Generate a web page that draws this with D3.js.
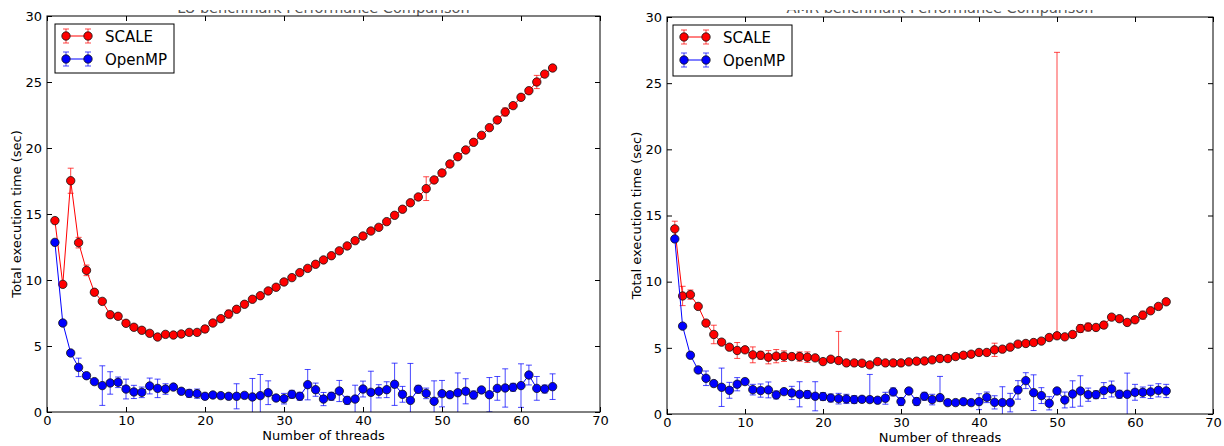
<!DOCTYPE html>
<html><head><meta charset="utf-8">
<script src="https://cdn.jsdelivr.net/npm/d3@7"></script>
<style>
body{margin:0;background:#fff}
svg{display:block}
text{font-family:"DejaVu Sans",sans-serif;fill:#000}
</style>
</head><body>
<svg id="chart" width="1224" height="446"></svg>
<script>
const threads = [1,2,3,4,5,6,7,8,9,10,11,12,13,14,15,16,17,18,19,20,21,22,23,24,25,26,27,28,29,30,31,32,
  33,34,35,36,37,38,39,40,41,42,43,44,45,46,47,48,49,50,51,52,53,54,55,56,57,58,59,60,61,62,63,64];
const xTicks = [0,10,20,30,40,50,60,70];
const yTicks = [0,5,10,15,20,25,30];
const seriesNames = ["SCALE","OpenMP"];
const titles = ["LU benchmark Performance Comparison","AMR benchmark Performance Comparison"];
const xLabel = "Number of threads";
const yLabel = "Total execution time (sec)";

// Left panel
const leftScale = [14.5,9.67,17.52,12.83,10.73,9.07,8.38,7.37,7.25,6.72,
  6.42,6.19,5.96,5.68,5.88,5.83,5.91,6.03,6.03,6.29,
  6.74,7.07,7.42,7.78,8.16,8.54,8.81,9.17,9.45,9.85,
  10.18,10.56,10.88,11.19,11.52,11.84,12.21,12.58,12.98,13.33,
  13.71,13.99,14.42,14.9,15.36,15.85,16.29,16.92,17.58,18.11,
  18.79,19.34,19.85,20.43,20.96,21.54,22.12,22.73,23.21,23.84,
  24.34,25.0,25.6,26.06];
const leftScaleErr = [0.2,0.15,0.95,0.4,0.4,0.15,0.15,0.15,0.15,0.15,
  0.15,0.15,0.15,0.15,0.15,0.1,0.1,0.1,0.15,0.25,
  0.15,0.15,0.3,0.15,0.1,0.1,0.1,0.1,0.1,0.1,
  0.1,0.1,0.1,0.1,0.1,0.1,0.1,0.1,0.1,0.1,
  0.1,0.1,0.1,0.1,0.1,0.1,0.1,0.9,0.1,0.1,
  0.1,0.1,0.1,0.1,0.1,0.1,0.1,0.3,0.1,0.1,
  0.1,0.5,0.1,0.2];
const leftOmp = [12.85,6.74,4.47,3.38,2.75,2.3,2.0,2.2,2.25,1.74,
  1.52,1.49,1.97,1.79,1.74,1.89,1.57,1.41,1.39,1.19,
  1.29,1.24,1.19,1.19,1.26,1.14,1.24,1.46,1.06,1.01,
  1.34,1.19,2.07,1.69,0.98,1.19,1.59,0.88,0.98,1.74,
  1.49,1.57,1.69,2.1,1.34,0.88,1.72,1.41,0.81,1.39,
  1.31,1.46,1.57,1.29,1.67,1.31,1.79,1.82,1.87,2.0,
  2.8,1.79,1.74,1.92];
const leftOmpErr = [0.1,0.1,0.1,0.7,0.2,0.1,1.5,0.85,0.4,0.75,
  0.5,0.4,0.6,0.7,0.4,0.1,0.1,0.3,0.35,0.1,
  0.1,0.1,0.1,0.95,0.1,1.4,1.6,0.9,0.2,0.4,
  0.3,0.3,1.15,0.5,0.5,0.3,0.8,0.3,1.05,0.6,
  1.6,0.5,0.6,1.6,0.6,2.8,0.3,0.4,1.55,1.0,
  0.2,1.5,0.95,0.3,0.2,1.3,0.9,1.45,0.3,1.65,
  0.75,0.9,0.3,0.97];

// Right panel
const rightScale = [13.99,8.92,9.02,8.13,6.87,6.01,5.43,5.05,4.8,4.85,
  4.47,4.44,4.29,4.37,4.37,4.34,4.34,4.29,4.24,3.96,
  4.14,4.04,3.86,3.86,3.84,3.71,3.96,3.86,3.86,3.86,
  3.94,3.99,4.01,4.09,4.19,4.19,4.34,4.44,4.52,4.65,
  4.65,4.85,4.9,5.05,5.28,5.33,5.4,5.51,5.78,5.91,
  5.83,6.01,6.46,6.57,6.54,6.72,7.32,7.2,6.92,7.12,
  7.47,7.8,8.13,8.48];
const rightScaleErrLo = [0.58,0.73,0.35,0.1,0.1,0.7,0.1,0.1,0.6,0.1,
  0.6,0.3,0.5,0.5,0.4,0.2,0.35,0.4,0.1,0.1,
  0.1,0.1,0.1,0.1,0.1,0.1,0.1,0.1,0.1,0.1,
  0.1,0.1,0.1,0.1,0.1,0.1,0.1,0.1,0.1,0.1,
  0.1,0.5,0.1,0.1,0.1,0.1,0.1,0.1,0.1,0.1,
  0.1,0.1,0.3,0.3,0.1,0.25,0.1,0.2,0.1,0.1,
  0.3,0.1,0.1,0.2];
const rightScaleErrHi = [0.58,0.73,0.35,0.1,0.1,0.7,0.1,0.1,0.6,0.1,
  0.6,0.3,0.5,0.5,0.4,0.2,0.35,0.4,0.1,0.1,
  0.1,2.2,0.1,0.1,0.1,0.1,0.1,0.1,0.1,0.1,
  0.1,0.1,0.1,0.1,0.1,0.1,0.1,0.1,0.1,0.1,
  0.1,0.5,0.1,0.1,0.1,0.1,0.1,0.1,0.1,21.42,
  0.1,0.1,0.3,0.3,0.1,0.25,0.1,0.2,0.1,0.1,
  0.3,0.1,0.1,0.2];
const rightOmp = [13.23,6.64,4.44,3.33,2.7,2.3,2.02,1.79,2.25,2.45,
  1.84,1.77,1.82,1.44,1.69,1.59,1.49,1.47,1.34,1.32,
  1.21,1.16,1.14,1.09,1.11,1.09,1.04,1.19,1.67,0.94,
  1.74,0.94,1.34,1.09,1.24,0.86,0.86,0.93,0.86,0.93,
  1.26,0.88,0.86,0.86,1.82,2.52,1.61,1.39,0.81,1.74,
  1.06,1.51,1.74,1.46,1.46,1.77,1.89,1.49,1.49,1.64,
  1.64,1.67,1.79,1.74];
const rightOmpErrLo = [0.1,0.1,0.1,0.1,0.55,0.1,1.45,0.6,0.5,0.1,
  0.4,0.5,0.6,0.3,0.1,0.5,0.95,0.3,1.1,0.3,
  0.3,0.4,0.35,0.3,0.1,0.1,0.1,0.45,0.3,0.3,
  0.2,0.3,0.3,0.4,0.3,0.1,0.1,0.1,0.1,0.6,
  0.4,0.5,1.2,0.7,0.7,0.6,1.35,0.6,0.5,0.1,
  0.6,1.0,1.15,0.5,0.3,0.6,0.6,0.3,1.6,0.6,
  0.4,0.5,0.5,0.5];
const rightOmpErrHi = [0.1,0.1,0.1,0.1,0.55,0.1,1.45,0.6,0.5,0.1,
  0.4,0.5,0.6,0.3,0.1,0.5,0.95,0.3,1.1,0.3,
  0.3,0.4,0.35,0.3,0.1,1.9,0.1,0.45,0.3,0.3,
  0.2,0.3,0.3,0.4,1.6,0.1,0.1,0.1,0.1,0.6,
  0.4,0.5,1.2,0.7,0.7,0.6,1.35,0.6,0.5,0.1,
  0.6,1.0,1.15,0.5,0.3,0.6,0.6,0.3,1.6,0.6,
  0.4,0.5,0.5,0.5];

const colors = ["#ff0000","#0000ff"];

const svg = d3.select("#chart");

const panels = [
  {left:47, right:600, top:16, bottom:412, title:titles[0], ylabX:17,
   legend:{x:55,y:24,w:119,h:49},
   series:[
     {vals:leftScale, lo:leftScaleErr, hi:leftScaleErr},
     {vals:leftOmp, lo:leftOmpErr, hi:leftOmpErr}]},
  {left:667, right:1213, top:17, bottom:414, title:titles[1], ylabX:637,
   legend:{x:673,y:25,w:119,h:51},
   series:[
     {vals:rightScale, lo:rightScaleErrLo, hi:rightScaleErrHi},
     {vals:rightOmp, lo:rightOmpErrLo, hi:rightOmpErrHi}]}
];

panels.forEach((p, pi) => {
  const x = d3.scaleLinear().domain([0,70]).range([p.left,p.right]);
  const y = d3.scaleLinear().domain([0,30]).range([p.bottom,p.top]);
  const g = svg.append("g");

  // Title (top of figure is cut off in the source image; only its lowest sliver shows)
  const clipT = "clipT"+pi;
  svg.append("clipPath").attr("id",clipT).append("rect")
    .attr("x",p.left).attr("y",10).attr("width",p.right-p.left).attr("height",6);
  g.append("text").attr("clip-path",`url(#${clipT})`)
    .attr("x",(p.left+p.right)/2).attr("y",12.5)
    .attr("text-anchor","middle").attr("font-size",14.5).style("fill","#555")
    .text(p.title);

  // clip for data
  const clipId = "clip"+pi;
  svg.append("clipPath").attr("id",clipId).append("rect")
    .attr("x",p.left).attr("y",p.top).attr("width",p.right-p.left).attr("height",p.bottom-p.top);

  const data = g.append("g").attr("clip-path",`url(#${clipId})`);
  p.series.forEach((s, si) => {
    const col = colors[si];
    const sg = data.append("g");
    const pts = threads.map((t,i)=>({t, v:s.vals[i], lo:s.vals[i]-s.lo[i], hi:s.vals[i]+s.hi[i]}));
    // error bars
    const eb = sg.append("g").attr("stroke",col).attr("stroke-opacity",0.72).attr("stroke-width",1);
    eb.selectAll("line.v").data(pts).join("line")
      .attr("x1",d=>x(d.t)).attr("x2",d=>x(d.t)).attr("y1",d=>y(d.lo)).attr("y2",d=>y(d.hi));
    eb.selectAll("line.ct").data(pts).join("line")
      .attr("x1",d=>x(d.t)-3).attr("x2",d=>x(d.t)+3).attr("y1",d=>y(d.hi)).attr("y2",d=>y(d.hi));
    eb.selectAll("line.cb").data(pts).join("line")
      .attr("x1",d=>x(d.t)-3).attr("x2",d=>x(d.t)+3).attr("y1",d=>y(d.lo)).attr("y2",d=>y(d.lo));
    // line
    sg.append("path").datum(pts)
      .attr("fill","none").attr("stroke",col).attr("stroke-width",1)
      .attr("d", d3.line().x(d=>x(d.t)).y(d=>y(d.v)));
    // markers
    sg.selectAll("circle").data(pts).join("circle")
      .attr("cx",d=>x(d.t)).attr("cy",d=>y(d.v)).attr("r",4.2)
      .attr("fill",col).attr("stroke","#111").attr("stroke-width",0.8);
  });

  // axes (ticks inward, on all four sides)
  const fmt = d3.format("d");
  const ax = g.append("g").attr("class","axes");
  const styleAxis = sel => {
    sel.select(".domain").remove();
    sel.selectAll(".tick line").attr("stroke","#000").attr("stroke-width",1);
    sel.selectAll(".tick text").attr("font-size",13).style("font-family","DejaVu Sans").attr("fill","#000");
  };
  ax.append("g").attr("transform",`translate(0,${p.bottom})`)
    .call(d3.axisBottom(x).tickValues(xTicks).tickFormat(fmt).tickSizeInner(-5).tickSizeOuter(0).tickPadding(4))
    .call(styleAxis);
  ax.append("g").attr("transform",`translate(0,${p.top})`)
    .call(d3.axisTop(x).tickValues(xTicks).tickFormat("").tickSizeInner(-5).tickSizeOuter(0))
    .call(styleAxis);
  ax.append("g").attr("transform",`translate(${p.left},0)`)
    .call(d3.axisLeft(y).tickValues(yTicks).tickFormat(fmt).tickSizeInner(-5).tickSizeOuter(0).tickPadding(5))
    .call(styleAxis);
  ax.append("g").attr("transform",`translate(${p.right},0)`)
    .call(d3.axisRight(y).tickValues(yTicks).tickFormat("").tickSizeInner(-5).tickSizeOuter(0))
    .call(styleAxis);

  // frame
  g.append("rect").attr("x",p.left).attr("y",p.top)
    .attr("width",p.right-p.left).attr("height",p.bottom-p.top)
    .attr("fill","none").attr("stroke","#000").attr("stroke-width",1);

  // axis labels
  g.append("text").attr("x",(p.left+p.right)/2).attr("y",p.bottom+28)
    .attr("text-anchor","middle").attr("font-size",13).text(xLabel);
  g.append("text").attr("transform",`translate(${p.ylabX},${(p.top+p.bottom)/2}) rotate(-90)`)
    .attr("text-anchor","middle").attr("dominant-baseline","middle").attr("font-size",13).text(yLabel);

  // legend
  const L = p.legend;
  const lg = g.append("g");
  lg.append("rect").attr("x",L.x).attr("y",L.y).attr("width",L.w).attr("height",L.h)
    .attr("fill","#fff").attr("stroke","#000").attr("stroke-width",1);
  seriesNames.forEach((name, si) => {
    const col = colors[si];
    const ry = L.y + 12 + si*23;
    const xs = [L.x+11, L.x+33];
    lg.append("line").attr("x1",xs[0]).attr("x2",xs[1]).attr("y1",ry).attr("y2",ry)
      .attr("stroke",col).attr("stroke-width",1);
    xs.forEach(xx => {
      const e = lg.append("g").attr("stroke",col).attr("stroke-opacity",0.72);
      e.append("line").attr("x1",xx).attr("x2",xx).attr("y1",ry-7).attr("y2",ry+7);
      e.append("line").attr("x1",xx-3).attr("x2",xx+3).attr("y1",ry-7).attr("y2",ry-7);
      e.append("line").attr("x1",xx-3).attr("x2",xx+3).attr("y1",ry+7).attr("y2",ry+7);
      lg.append("circle").attr("cx",xx).attr("cy",ry).attr("r",4.2)
        .attr("fill",col).attr("stroke","#111").attr("stroke-width",0.8);
    });
    lg.append("text").attr("x",L.x+50).attr("y",ry+5.5).attr("font-size",15).text(name);
  });
});
</script>
</body></html>
